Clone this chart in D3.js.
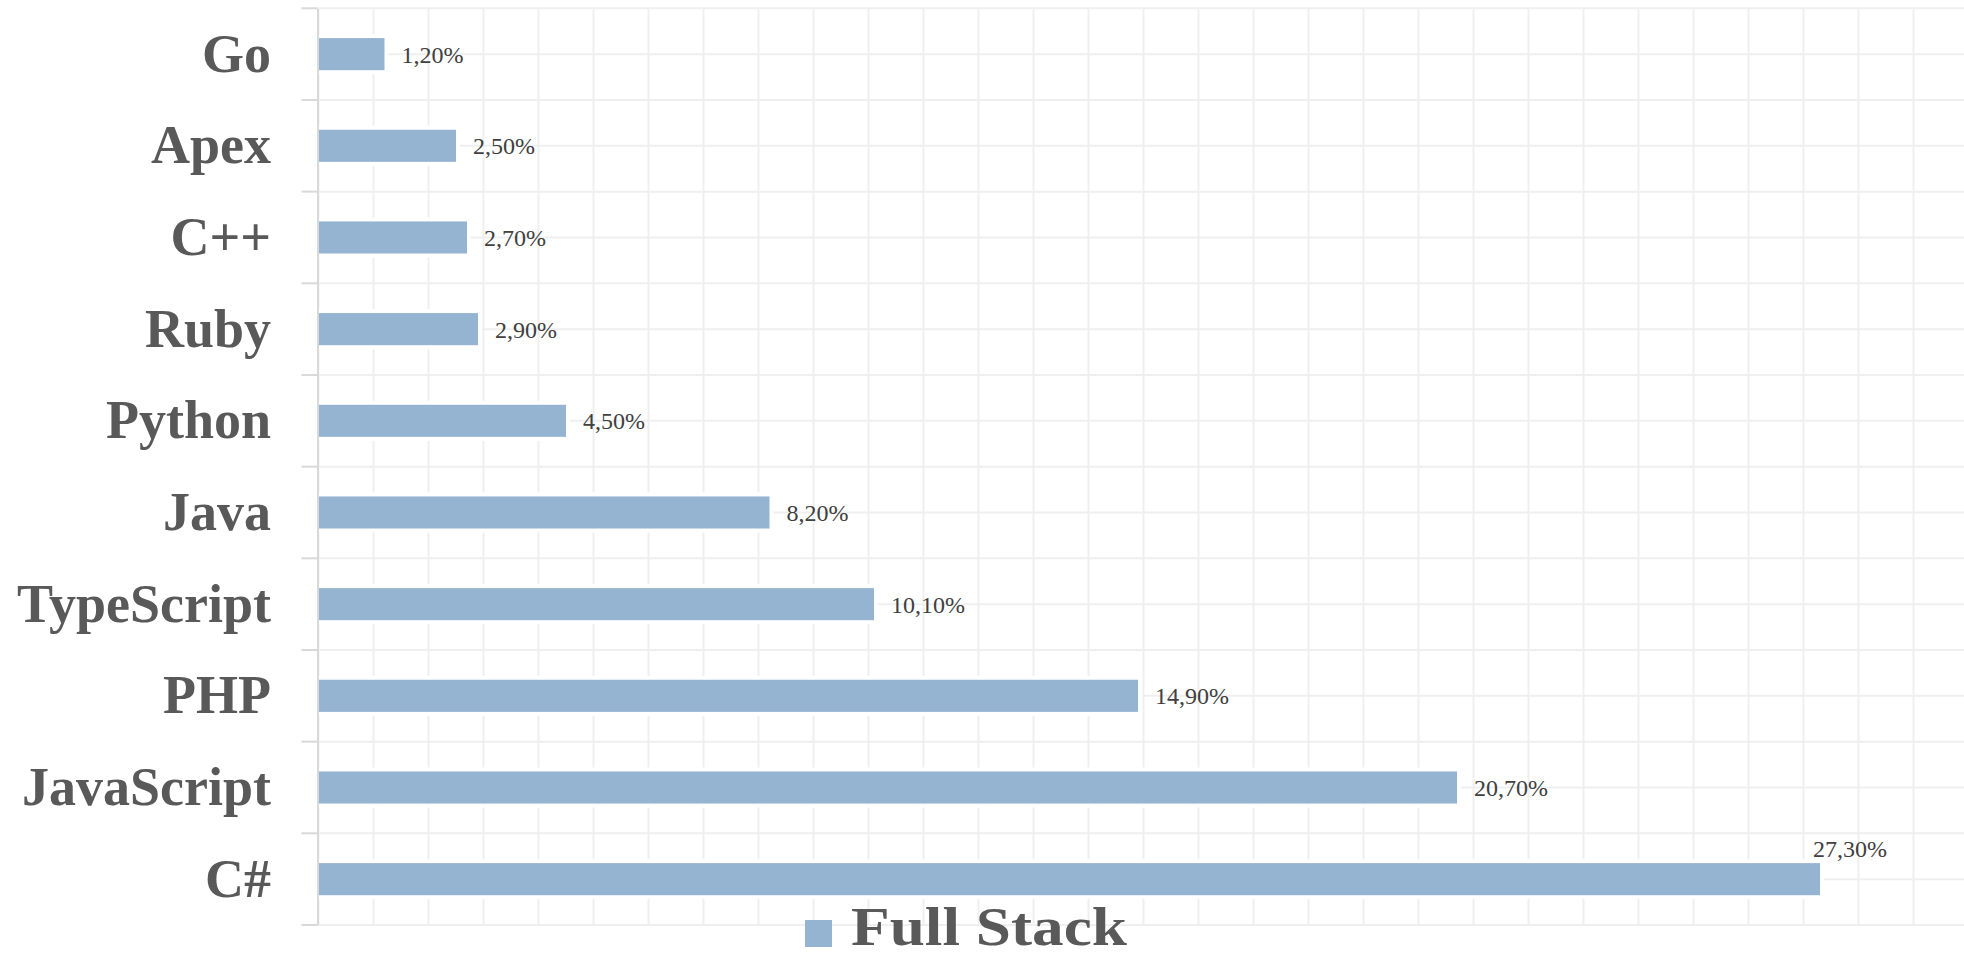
<!DOCTYPE html>
<html>
<head>
<meta charset="utf-8">
<script src="https://cdn.jsdelivr.net/npm/d3@7/dist/d3.min.js"></script>
<style>
  html, body { margin: 0; padding: 0; background: #ffffff; }
  svg { display: block; }
</style>
</head>
<body>
<svg id="chart" width="1964" height="958"></svg>
<script>
// Share of full stack job postings by language
const categories = ["Go", "Apex", "C++", "Ruby", "Python", "Java", "TypeScript", "PHP", "JavaScript", "C#"];
const values = [1.2, 2.5, 2.7, 2.9, 4.5, 8.2, 10.1, 14.9, 20.7, 27.3];
const seriesName = "Full Stack";
const xTicks = d3.range(0, 31, 1);

const W = 1964, H = 958;
const margin = { top: 8.3, left: 318.5, bottom: 33 };
const plotW = 1650;
const plotBottom = H - margin.bottom;

const barColor = "#94b4d2";
const gridColor = "#efefef";
const axisColor = "#d9d9d9";
const serif = "'Liberation Serif', 'Times New Roman', serif";

const svg = d3.select("#chart");

const x = d3.scaleLinear().domain([0, 30]).range([margin.left, margin.left + plotW]);
const y = d3.scaleBand().domain(categories).range([margin.top, plotBottom]);
const barH = y.bandwidth() * 0.35;

const locale = d3.formatLocale({ decimal: ",", thousands: ".", grouping: [3], currency: ["", "€"] });
const fmt = v => locale.format(".2f")(v) + "%";

// vertical grid, one line per percentage point
const grid = svg.append("g");
grid.selectAll("line.v").data(xTicks).join("line")
  .attr("x1", d => x(d)).attr("x2", d => x(d))
  .attr("y1", margin.top).attr("y2", plotBottom)
  .attr("stroke", gridColor).attr("stroke-width", 2);

// horizontal grid at band edges and band centres
const hLines = [];
categories.forEach(c => { hLines.push(y(c)); hLines.push(y(c) + y.bandwidth() / 2); });
hLines.push(plotBottom);
grid.selectAll("line.h").data(hLines).join("line")
  .attr("x1", margin.left).attr("x2", W)
  .attr("y1", d => d).attr("y2", d => d)
  .attr("stroke", gridColor).attr("stroke-width", 2);

// bars with a white halo that cuts the grid around them
const rows = categories.map((c, i) => ({ cat: c, val: values[i] }));
svg.append("g").selectAll("rect").data(rows).join("rect")
  .attr("x", x(0))
  .attr("y", d => y(d.cat) + y.bandwidth() / 2 - barH / 2)
  .attr("width", d => x(d.val) - x(0))
  .attr("height", barH)
  .attr("fill", barColor)
  .attr("stroke", "#ffffff")
  .attr("stroke-width", 8)
  .style("paint-order", "stroke");

// category axis
const yAxis = d3.axisLeft(y).tickSize(0).tickFormat("");
const axisG = svg.append("g").attr("transform", `translate(${x(0) - 1},0)`).call(yAxis);
axisG.select(".domain").attr("stroke", axisColor).attr("stroke-width", 2);
const edges = categories.map(c => y(c)).concat([plotBottom]);
svg.append("g").selectAll("line").data(edges).join("line")
  .attr("x1", x(0) - 17).attr("x2", x(0) - 1)
  .attr("y1", d => d).attr("y2", d => d)
  .attr("stroke", axisColor).attr("stroke-width", 2);

// category labels
svg.append("g").selectAll("text").data(categories).join("text")
  .attr("x", 271)
  .attr("y", d => y(d) + y.bandwidth() / 2 + 17.5)
  .attr("text-anchor", "end")
  .attr("font-family", serif)
  .attr("font-weight", "bold")
  .attr("font-size", 54)
  .attr("fill", "#595959")
  .text(d => d);

// value labels: outside the bar end, the longest bar gets its label above
const maxVal = d3.max(values);
svg.append("g").selectAll("text").data(rows).join("text")
  .attr("x", d => d.val === maxVal ? x(d.val) - 7 : x(d.val) + 17)
  .attr("y", d => {
    const c = y(d.cat) + y.bandwidth() / 2;
    return d.val === maxVal ? c - barH / 2 - 6 : c + 8.5;
  })
  .attr("font-family", serif)
  .attr("font-size", 24)
  .attr("fill", "#404040")
  .text(d => fmt(d.val));

// legend
const lg = svg.append("g");
lg.append("rect").attr("x", 805).attr("y", 920).attr("width", 27).attr("height", 27).attr("fill", barColor);
lg.append("text")
  .attr("x", 851).attr("y", 945)
  .attr("font-family", serif)
  .attr("font-weight", "bold")
  .attr("font-size", 55)
  .attr("textLength", 276)
  .attr("lengthAdjust", "spacingAndGlyphs")
  .attr("fill", "#595959")
  .text(seriesName);
</script>
</body>
</html>
